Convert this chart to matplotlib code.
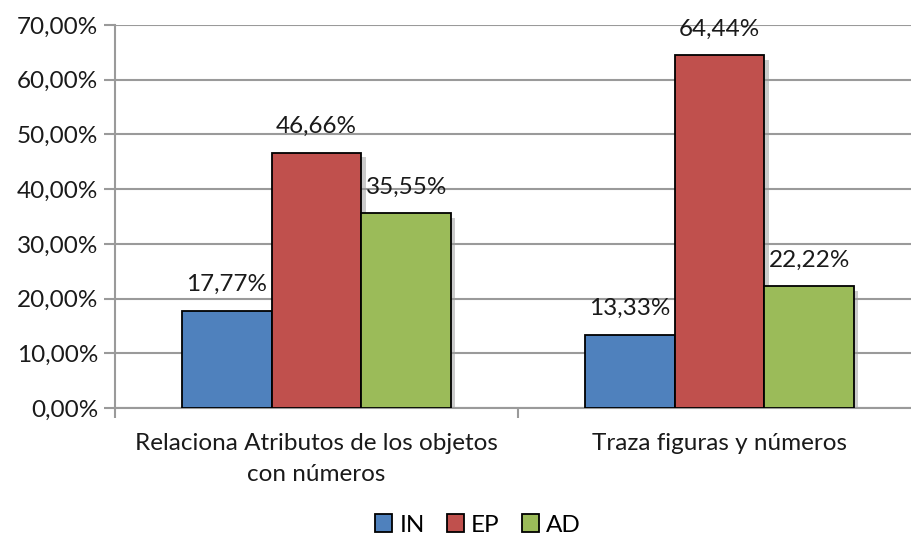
import matplotlib
matplotlib.use("Agg")
import matplotlib.pyplot as plt
import matplotlib.patheffects as pe
from matplotlib.patches import Patch
import numpy as np

categories = ["Relaciona Atributos de los objetos\ncon números", "Traza figuras y números"]
series = ["IN", "EP", "AD"]
values = {
    "IN": [17.77, 13.33],
    "EP": [46.66, 64.44],
    "AD": [35.55, 22.22],
}
colors = {"IN": "#4f81bd", "EP": "#c0504d", "AD": "#9bbb59"}
yticks = [0, 10, 20, 30, 40, 50, 60, 70]

plt.rcParams["font.family"] = ["Lato", "DejaVu Sans"]
grid_col = "#9a9a9a"
fs = 17.5

fig = plt.figure(figsize=(9.12, 5.41), dpi=100)
# axes extends slightly past the right edge of the figure, as in the reference
ax = fig.add_axes([115 / 912, 1 - 408 / 541, (921 - 115) / 912, (408 - 25) / 541])

x = np.arange(len(categories))
width = 0.223
shadow = [pe.SimplePatchShadow(offset=(3, -3), shadow_rgbFace="#999999", alpha=0.5), pe.Normal()]
for i, s in enumerate(series):
    pos = x + (i - 1) * width
    ax.bar(pos, values[s], width, color=colors[s], edgecolor="black",
           linewidth=1.3, zorder=3, path_effects=shadow)
    for xp, v in zip(pos, values[s]):
        ax.text(xp, v + 2.9, f"{v:.2f}%".replace(".", ","), ha="center", va="bottom",
                fontsize=fs, color="#1a1a1a", zorder=4)

ax.set_xlim(-0.5, 1.5)
ax.set_ylim(0, 70)
ax.set_yticks(yticks)
ax.set_yticklabels([f"{t:.2f}%".replace(".", ",") for t in yticks], fontsize=fs, color="#1a1a1a")
ax.yaxis.grid(True, color=grid_col, linewidth=1.5, zorder=0)
ax.set_axisbelow(True)

ax.set_xticks([-0.5, 0.5, 1.5])
ax.set_xticklabels([])
ax.set_xticks(x, minor=True)
ax.set_xticklabels(categories, minor=True, fontsize=fs, color="#1a1a1a", linespacing=1.6)
ax.tick_params(axis="x", which="minor", length=0, pad=18)
ax.tick_params(axis="x", which="major", length=7, color=grid_col, width=1.5, direction="out")
ax.tick_params(axis="y", length=8, color=grid_col, width=1.5, direction="out", pad=4)

for sp in ["top", "right"]:
    ax.spines[sp].set_visible(False)
for sp in ["left", "bottom"]:
    ax.spines[sp].set_color(grid_col)
    ax.spines[sp].set_linewidth(1.5)

handles = [Patch(facecolor=colors[s], edgecolor="black", linewidth=1.3) for s in series]
fig.legend(handles, series, loc="center", bbox_to_anchor=(478 / 912, 1 - 525 / 541), ncol=3,
           frameon=False, fontsize=fs, handlelength=0.7, handleheight=0.7,
           handletextpad=0.3, columnspacing=0.9)

fig.savefig("out.png", dpi=100)
